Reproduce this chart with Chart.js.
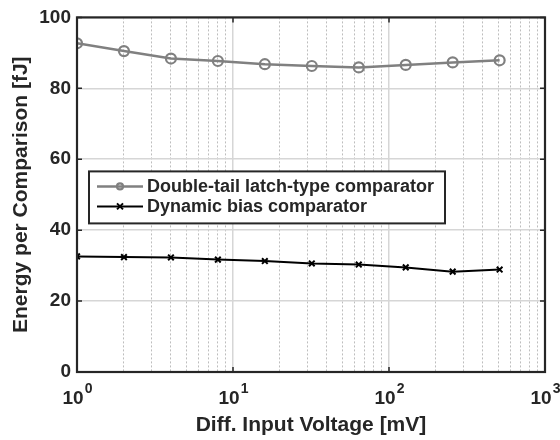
<!DOCTYPE html>
<html>
<head>
<meta charset="utf-8">
<script src="https://cdn.jsdelivr.net/npm/chart.js@4.4.1/dist/chart.umd.min.js"></script>
<style>
  html, body { margin: 0; padding: 0; background: #fff; }
  #wrap { width: 560px; height: 440px; }
</style>
</head>
<body>
<div id="wrap"><canvas id="myChart" width="560" height="440"></canvas></div>
<script>
// x values (mV)
const inputVoltage = [1, 2, 4, 8, 16, 32, 64, 128, 256, 512];
// energy per comparison (fJ)
const doubleTail = [92.7, 90.5, 88.4, 87.7, 86.8, 86.3, 85.9, 86.6, 87.3, 87.9];
const dynamicBias = [32.6, 32.4, 32.3, 31.7, 31.3, 30.6, 30.3, 29.5, 28.3, 28.9];
const xDecades = [1, 10, 100, 1000];
const xExponents = ['0', '1', '2', '3'];
const yTicks = [0, 20, 40, 60, 80, 100];
const seriesNames = ['Double-tail latch-type comparator', 'Dynamic bias comparator'];

const textColor = '#262626';
const fontFamily = '"Liberation Sans", Arial, sans-serif';

function toPoints(ys) {
    return inputVoltage.map((x, i) => ({ x: x, y: ys[i] }));
}

// all log ticks 1..9 per decade
function logTicks() {
    const t = [];
    for (let d = 1; d < 1000; d *= 10) {
        for (let k = 1; k < 10; k++) t.push({ value: k * d });
    }
    t.push({ value: 1000 });
    return t;
}

const boxPlugin = {
    id: 'boxPlugin',
    afterDraw(chart) {
        const ctx = chart.ctx;
        const a = chart.chartArea;
        const xs = chart.scales.x;
        const ys = chart.scales.y;
        ctx.save();
        // inward ticks
        ctx.strokeStyle = textColor;
        ctx.lineWidth = 1.5;
        ctx.beginPath();
        xDecades.forEach(v => {
            const px = xs.getPixelForValue(v);
            ctx.moveTo(px, a.bottom); ctx.lineTo(px, a.bottom - 5);
            ctx.moveTo(px, a.top); ctx.lineTo(px, a.top + 5);
        });
        yTicks.forEach(v => {
            const py = ys.getPixelForValue(v);
            ctx.moveTo(a.left, py); ctx.lineTo(a.left + 5, py);
            ctx.moveTo(a.right, py); ctx.lineTo(a.right - 5, py);
        });
        ctx.stroke();
        // frame
        ctx.lineWidth = 2.2;
        ctx.strokeStyle = textColor;
        ctx.strokeRect(a.left, a.top, a.right - a.left, a.bottom - a.top);

        // x tick labels with exponent
        ctx.fillStyle = textColor;
        ctx.textBaseline = 'alphabetic';
        xDecades.forEach((v, i) => {
            const px = xs.getPixelForValue(v);
            ctx.font = 'bold 19px ' + fontFamily;
            const w1 = ctx.measureText('10').width;
            ctx.font = 'bold 14px ' + fontFamily;
            const w2 = ctx.measureText(xExponents[i]).width;
            const x0 = px - (w1 + w2) / 2;
            ctx.font = 'bold 19px ' + fontFamily;
            ctx.textAlign = 'left';
            ctx.fillText('10', x0, a.bottom + 32);
            ctx.font = 'bold 14px ' + fontFamily;
            ctx.fillText(xExponents[i], x0 + w1 + 1, a.bottom + 21);
        });

        // legend box
        const lx = a.left + 12, ly = a.top + 154, lw = 356, lh = 52;
        ctx.fillStyle = '#fff';
        ctx.fillRect(lx, ly, lw, lh);
        ctx.lineWidth = 2;
        ctx.strokeStyle = textColor;
        ctx.strokeRect(lx, ly, lw, lh);
        chart.data.datasets.forEach((ds, i) => {
            const cy = ly + 15 + i * 20;
            ctx.strokeStyle = ds.borderColor;
            ctx.lineWidth = ds.borderWidth;
            ctx.beginPath();
            ctx.moveTo(lx + 8, cy); ctx.lineTo(lx + 54, cy);
            ctx.stroke();
            ctx.lineWidth = ds.pointBorderWidth;
            ctx.strokeStyle = ds.pointBorderColor;
            ctx.beginPath();
            if (ds.pointStyle === 'circle') {
                ctx.arc(lx + 31, cy, 3, 0, Math.PI * 2);
            } else {
                ctx.moveTo(lx + 28, cy - 3); ctx.lineTo(lx + 34, cy + 3);
                ctx.moveTo(lx + 34, cy - 3); ctx.lineTo(lx + 28, cy + 3);
            }
            ctx.stroke();
            ctx.fillStyle = textColor;
            ctx.font = 'bold 18px ' + fontFamily;
            ctx.textAlign = 'left';
            ctx.textBaseline = 'middle';
            ctx.fillText(ds.label, lx + 58, cy + 1);
        });
        ctx.restore();
    }
};

const ctx = document.getElementById('myChart').getContext('2d');
new Chart(ctx, {
    type: 'line',
    data: {
        datasets: [
            {
                label: seriesNames[0],
                data: toPoints(doubleTail),
                borderColor: '#808080',
                borderWidth: 2.5,
                pointStyle: 'circle',
                pointRadius: 5,
                pointBorderWidth: 2.2,
                pointBorderColor: '#808080',
                pointBackgroundColor: 'rgba(0,0,0,0)'
            },
            {
                label: seriesNames[1],
                data: toPoints(dynamicBias),
                borderColor: '#000000',
                borderWidth: 2,
                pointStyle: 'crossRot',
                pointRadius: 4,
                pointBorderWidth: 2,
                pointBorderColor: '#000000',
                pointBackgroundColor: '#000000'
            }
        ]
    },
    options: {
        responsive: false,
        animation: false,
        layout: { padding: { top: 15, right: 15, left: 0, bottom: 0 } },
        plugins: { legend: { display: false }, tooltip: { enabled: false } },
        scales: {
            x: {
                type: 'logarithmic',
                min: 1,
                max: 1000,
                afterBuildTicks: scale => { scale.ticks = logTicks(); },
                afterFit: scale => { scale.height = 68; },
                ticks: { display: false },
                grid: {
                    drawTicks: false,
                    color: c => {
                        const v = c.tick ? c.tick.value : 0;
                        return xDecades.includes(v) ? '#d6d6d6' : '#bdbdbd';
                    },
                    lineWidth: c => {
                        const v = c.tick ? c.tick.value : 0;
                        return xDecades.includes(v) ? 1.5 : 1;
                    }
                },
                border: {
                    display: false,
                    dash: c => {
                        const v = c.tick ? c.tick.value : 0;
                        return xDecades.includes(v) ? [] : [2, 2];
                    }
                },
                title: {
                    display: true,
                    text: 'Diff. Input Voltage [mV]',
                    color: textColor,
                    font: { family: fontFamily, size: 21, weight: 'bold' },
                    padding: { top: 0, bottom: 2 }
                }
            },
            y: {
                min: 0,
                max: 100,
                afterBuildTicks: scale => { scale.ticks = yTicks.map(v => ({ value: v })); },
                afterFit: scale => { scale.width = 77; },
                ticks: {
                    color: textColor,
                    padding: 6,
                    font: { family: fontFamily, size: 19, weight: 'bold' }
                },
                grid: {
                    drawTicks: false,
                    color: '#d6d6d6',
                    lineWidth: 1.5
                },
                border: { display: false },
                title: {
                    display: true,
                    text: 'Energy per Comparison [fJ]',
                    color: textColor,
                    font: { family: fontFamily, size: 21, weight: 'bold' },
                    padding: { top: 9, bottom: 0 }
                }
            }
        }
    },
    plugins: [boxPlugin]
});
</script>
</body>
</html>
